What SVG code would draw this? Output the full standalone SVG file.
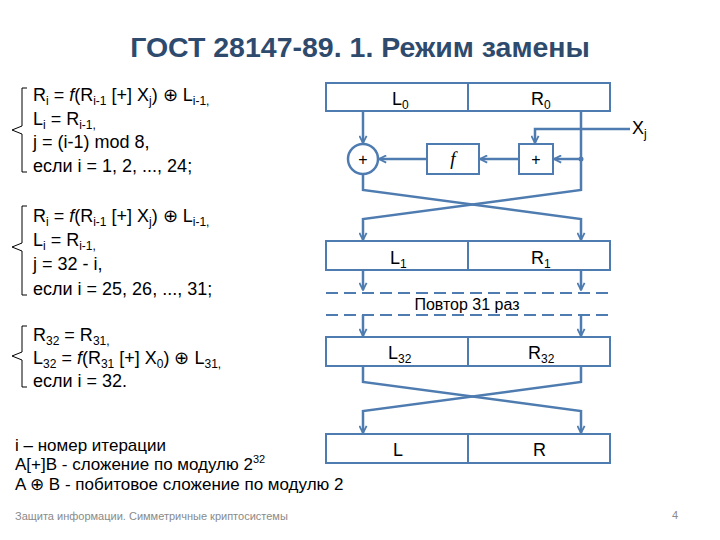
<svg xmlns="http://www.w3.org/2000/svg" width="720" height="540" viewBox="0 0 720 540">
<style>
.t{font-family:"Liberation Sans",Arial,sans-serif;fill:#000}
.f{font-size:18px}
.s{font-size:12px}
.b{fill:#fff;stroke:#4f7cb0;stroke-width:2}
.c{fill:none;stroke:#4f7cb0;stroke-width:2.5}
.br{fill:none;stroke:#000;stroke-width:1}
.d{fill:none;stroke:#4f7cb0;stroke-width:2;stroke-dasharray:12 6}
.lb{font-family:"Liberation Sans",Arial,sans-serif;font-size:18px;fill:#000;text-anchor:start}
</style>
<defs>
<marker id="ah" viewBox="0 0 10 10" refX="9" refY="5" markerWidth="9" markerHeight="9" orient="auto" markerUnits="userSpaceOnUse">
<path d="M1,1 L9,5 L1,9" fill="none" stroke="#4f7cb0" stroke-width="2"/>
</marker>
</defs>
<rect width="720" height="540" fill="#fff"/>
<text x="360" y="57" text-anchor="middle" font-family="'Liberation Sans',Arial,sans-serif" font-weight="bold" font-size="28.5" fill="#2e4a6d">ГОСТ 28147-89. 1. Режим замены</text>

<g id="formulas1">
<path class="br" d="M27,88 H22 V126 L12,130 L22,134 V172 H27"/>
<text class="t f" x="33" y="101">R<tspan class="s" dy="4">i</tspan><tspan dy="-4"> = </tspan><tspan font-style="italic">f</tspan>(R<tspan class="s" dy="4">i-1</tspan><tspan dy="-4"> [+] X</tspan><tspan class="s" dy="4">j</tspan><tspan dy="-4">) ⊕ L</tspan><tspan class="s" dy="4">i-1,</tspan></text>
<text class="t f" x="33" y="125">L<tspan class="s" dy="4">i</tspan><tspan dy="-4"> = R</tspan><tspan class="s" dy="4">i-1,</tspan></text>
<text class="t f" x="33" y="148">j = (i-1) mod 8,</text>
<text class="t f" x="33" y="172">если i = 1, 2, ..., 24;</text>
</g>

<g id="formulas2">
<path class="br" d="M27,206 H22 V243 L12,247 L22,251 V295 H27"/>
<text class="t f" x="33" y="222">R<tspan class="s" dy="4">i</tspan><tspan dy="-4"> = </tspan><tspan font-style="italic">f</tspan>(R<tspan class="s" dy="4">i-1</tspan><tspan dy="-4"> [+] X</tspan><tspan class="s" dy="4">j</tspan><tspan dy="-4">) ⊕ L</tspan><tspan class="s" dy="4">i-1,</tspan></text>
<text class="t f" x="33" y="246">L<tspan class="s" dy="4">i</tspan><tspan dy="-4"> = R</tspan><tspan class="s" dy="4">i-1,</tspan></text>
<text class="t f" x="33" y="270">j = 32 - i,</text>
<text class="t f" x="33" y="295">если i = 25, 26, ..., 31;</text>
</g>

<g id="formulas3">
<path class="br" d="M27,326 H22 V352 L12,356 L22,360 V387 H27"/>
<text class="t f" x="33" y="341">R<tspan class="s" dy="4">32</tspan><tspan dy="-4"> = R</tspan><tspan class="s" dy="4">31,</tspan></text>
<text class="t f" x="33" y="364">L<tspan class="s" dy="4">32</tspan><tspan dy="-4"> = </tspan><tspan font-style="italic">f</tspan>(R<tspan class="s" dy="4">31</tspan><tspan dy="-4"> [+] X</tspan><tspan class="s" dy="4">0</tspan><tspan dy="-4">) ⊕ L</tspan><tspan class="s" dy="4">31,</tspan></text>
<text class="t f" x="33" y="387">если i = 32.</text>
</g>

<g id="legend">
<text class="t" font-size="17" x="15" y="451">i – номер итерации</text>
<text class="t" font-size="17" x="15" y="470">A[+]B - сложение по модулю 2<tspan font-size="11" dy="-7">32</tspan></text>
<text class="t" font-size="17" x="15" y="490">A ⊕ B - побитовое сложение по модулю 2</text>
</g>

<g id="footer">
<text font-family="'Liberation Sans',Arial,sans-serif" font-size="11" fill="#8a8a8a" x="15" y="520">Защита информации. Симметричные криптосистемы</text>
<text font-family="'Liberation Sans',Arial,sans-serif" font-size="11" fill="#8a8a8a" x="675" y="519" text-anchor="middle">4</text>
</g>

<g id="connectors">
<path class="c" d="M363,111 V143" marker-end="url(#ah)"/>
<path class="c" d="M581,111 V190 L363,219 V240" marker-end="url(#ah)"/>
<path class="c" d="M363,174 V190 L581,219 V240" marker-end="url(#ah)"/>
<path class="c" d="M581,159 H554" marker-end="url(#ah)"/>
<path class="c" d="M519,159 H480" marker-end="url(#ah)"/>
<path class="c" d="M427,159 H379" marker-end="url(#ah)"/>
<path class="c" d="M630,129 H535 V143" marker-end="url(#ah)"/>
<circle cx="581" cy="159" r="2.5" fill="#4f7cb0"/>
<path class="c" d="M363,270 V290" marker-end="url(#ah)"/>
<path class="c" d="M581,270 V290" marker-end="url(#ah)"/>
<path class="d" d="M326,293 H610"/>
<path class="d" d="M326,315 H610"/>
<path class="c" d="M363,315 V336" marker-end="url(#ah)"/>
<path class="c" d="M581,315 V336" marker-end="url(#ah)"/>
<path class="c" d="M363,366 V382 L581,411 V433" marker-end="url(#ah)"/>
<path class="c" d="M581,366 V382 L363,411 V433" marker-end="url(#ah)"/>
</g>

<g id="box-L0R0">
<rect class="b" x="326" y="83" width="284" height="28"/>
<line x1="468" y1="83" x2="468" y2="111" stroke="#4f7cb0" stroke-width="2"/>
<text class="lb" x="392" y="105">L<tspan class="s" dy="4">0</tspan></text>
<text class="lb" x="531" y="105">R<tspan class="s" dy="4">0</tspan></text>
</g>
<g id="xor">
<circle cx="363" cy="159" r="15" fill="#fff" stroke="#4f7cb0" stroke-width="2.5"/>
<text class="t" font-size="16" x="363" y="165" text-anchor="middle">+</text>
</g>
<g id="f-box">
<rect class="b" x="427" y="144" width="52" height="30"/>
<text font-family="'Liberation Serif',serif" font-style="italic" font-size="19" x="453" y="165" text-anchor="middle">f</text>
</g>
<g id="add-box">
<rect class="b" x="519" y="144" width="34" height="30"/>
<text class="t" font-size="16" x="536" y="165" text-anchor="middle">+</text>
</g>
<g id="xj">
<text class="lb" x="632" y="134">X<tspan class="s" dy="4">j</tspan></text>
</g>
<g id="box-L1R1">
<rect class="b" x="326" y="241" width="284" height="29"/>
<line x1="468" y1="241" x2="468" y2="270" stroke="#4f7cb0" stroke-width="2"/>
<text class="lb" x="390" y="264">L<tspan class="s" dy="4">1</tspan></text>
<text class="lb" x="531" y="264">R<tspan class="s" dy="4">1</tspan></text>
</g>
<g id="repeat">
<text class="t" font-size="16" x="467" y="310" text-anchor="middle">Повтор 31 раз</text>
</g>
<g id="box-L32R32">
<rect class="b" x="326" y="337" width="284" height="29"/>
<line x1="468" y1="337" x2="468" y2="366" stroke="#4f7cb0" stroke-width="2"/>
<text class="lb" x="388" y="359">L<tspan class="s" dy="4">32</tspan></text>
<text class="lb" x="528" y="359">R<tspan class="s" dy="4">32</tspan></text>
</g>
<g id="box-LR">
<rect class="b" x="326" y="434" width="284" height="29"/>
<line x1="468" y1="434" x2="468" y2="463" stroke="#4f7cb0" stroke-width="2"/>
<text class="lb" x="393" y="456">L</text>
<text class="lb" x="533" y="456">R</text>
</g>
</svg>
